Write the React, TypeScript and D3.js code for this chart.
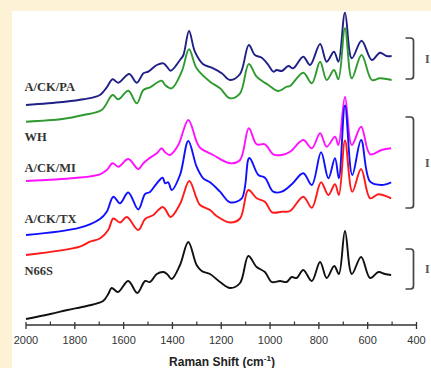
import React from "react";
import * as d3 from "d3";

// Raman shift tick values (cm-1)
const majorTicks = [2000, 1800, 1600, 1400, 1200, 1000, 800, 600, 400];
const minorTicks = [1900, 1700, 1500, 1300, 1100, 900, 700, 500];

// Series: wavenumber (cm-1) and intensity (a.u., stacked with offsets)
const wnPA = [2000,1850,1765,1697,1669,1645,1622,1577,1546,1519,1499,1464,1437,1423,1407,1369,1355,1332,1308,1274,1239,1198,1164,1123,1087,1062,1034,1007,987,973,952,925,905,864,836,795,768,738,720,693,665,625,583,550,522,502];
const intPA = [220,223,225.7,230,237.7,245.7,242.3,251,242.3,251.7,253.3,260,261.7,258.3,254.3,265,270,294,273.3,260.7,257.3,251.7,245,251,280,270,267.3,260,253.3,255,254,259,256.7,268.3,260,281,263.3,273.3,263.3,312.3,266.7,284.3,265,272.3,269,269];

const wnGreen = [2000,1850,1765,1690,1645,1622,1581,1546,1519,1492,1444,1430,1403,1362,1332,1301,1246,1205,1164,1123,1087,1055,1007,966,932,918,864,829,795,768,738,720,693,665,625,583,550,502];
const intGreen = [203.3,206,210,215,230,225.7,234.3,221.7,235,237.7,244.3,240,236.7,253.3,275.7,256.7,243.3,236.7,226.7,231.7,261,248.3,240,234,238.3,239,252.3,241.7,263.3,245,255,245.7,296.7,246.7,270,245,246.7,245];

const wnWH = [2000,1800,1697,1669,1645,1622,1581,1540,1519,1499,1464,1444,1430,1410,1376,1335,1301,1287,1233,1164,1123,1087,1055,1021,987,952,918,864,829,795,768,734,720,693,665,627,590,543,504];
const intWH = [144,147,150.7,155,161.7,158.3,166,156,161.7,166,171.7,176.7,172.7,170,180,205,183.3,177.3,170,161.7,165,196.7,180.7,180.7,170.7,170,173.3,185,176.7,191.7,178.3,188.3,180,228,180,198.3,170.7,175,176.7];

const wnMI = [2000,1779,1697,1669,1642,1615,1581,1540,1512,1492,1464,1440,1430,1417,1403,1369,1335,1301,1274,1246,1205,1164,1116,1085,1048,1021,987,952,911,864,829,791,761,734,718,693,663,627,590,543,504];
const intMI = [90,97.3,106,113.3,128.3,121.7,132.5,115.5,131,133,141.7,147.3,141.7,142.7,135,150,184,158.3,146.7,142.7,133.3,122.7,126.7,167,150,147.3,133.3,133.3,140.7,151.7,140,172.7,146.7,166.7,146.7,219.5,150,185,143.3,140,142.7];

const wnTX = [2000,1779,1738,1697,1663,1642,1615,1587,1540,1512,1478,1458,1440,1430,1407,1369,1331,1301,1287,1246,1219,1164,1123,1089,1055,1021,991,952,918,864,829,791,761,734,718,693,663,627,590,556,504];
const intTX = [70,78.3,83.3,86.5,95,106.5,102.5,108,95,106,110,115,118,116,108,121,144,126.7,120,115,109,102.5,106.5,135,126.7,123.3,112.7,113.3,114,128.3,117.3,142.7,130,140.7,130,184.5,133.3,156,126.7,130.7,126.7];

const wnN66S = [2000,1900,1830,1751,1684,1663,1649,1623,1581,1544,1512,1492,1464,1437,1422,1403,1369,1335,1301,1280,1246,1205,1164,1123,1089,1055,1021,993,959,932,911,891,864,829,795,768,737,718,693,665,627,590,556,529,504];
const intN66S = [6,11,15,19,24,31,37,33,44,32,44,43,51,53,51,46,60,83,60,54,51,43,37,42,69,58,53,43,44,43,48,47,55,44,63,47,59,51,94,51,68,47,53,51,50];

const seriesNames = ["A/CK/PA", "green", "WH", "A/CK/MI", "A/CK/TX", "N66S"];
const seriesColors = ["#1f1f86", "#2f9a2f", "#ff10ff", "#1010ff", "#ff1a1a", "#111111"];

const sampleLabels = ["A/CK/PA", "WH", "A/CK/MI", "A/CK/TX", "N66S"];
const sampleLabelIntensity = [234, 184, 153.5, 102, 50];

// brackets: [top intensity, bottom intensity]
const bracketTop = [287, 208, 76];
const bracketBottom = [246, 117, 36];
const bracketText = ["I", "I", "I"];

export default function App() {
  const W = 431, H = 368;
  const x = d3.scaleLinear().domain([2000, 400]).range([26, 416.5]);
  const y = d3.scaleLinear().domain([0, 314]).range([325, 11]);

  const all = [
    [wnPA, intPA], [wnGreen, intGreen], [wnWH, intWH],
    [wnMI, intMI], [wnTX, intTX], [wnN66S, intN66S],
  ];
  const line = d3.line<[number, number]>()
    .x(d => x(d[0])).y(d => y(d[1]))
    .curve(d3.curveCatmullRom.alpha(0.5));

  const drawOrder = [0, 1, 2, 3, 4, 5];

  return (
    <svg width={W} height={H} style={{ position: "absolute", left: 0, top: 0 }}>
      <rect x={0} y={0} width={W} height={H} fill="#fdf2d6" />
      <rect x={12} y={11} width={W - 12} height={H - 11} fill="#ffffff" />
      {drawOrder.map(i => {
        const [wn, it] = all[i];
        const pts = wn.map((w, k) => [w, it[k]] as [number, number]);
        return (
          <path key={seriesNames[i]} d={line(pts) || ""} fill="none"
            stroke={seriesColors[i]} strokeWidth={1.9} strokeLinejoin="round" />
        );
      })}
      {sampleLabels.map((s, i) => (
        <text key={s} x={24.5} y={y(sampleLabelIntensity[i])} fontFamily="'Liberation Serif', 'Times New Roman', serif"
          fontSize={12.5} fontWeight="bold" fill="#333">{s}</text>
      ))}
      {bracketTop.map((t, i) => {
        const y0 = y(t), y1 = y(bracketBottom[i]);
        const xr = 413.5, xl = 405.5, r = 3;
        const d = `M${xl},${y0} L${xr - r},${y0} Q${xr},${y0} ${xr},${y0 + r} L${xr},${y1 - r} Q${xr},${y1} ${xr - r},${y1} L${xl},${y1}`;
        return (
          <g key={i}>
            <path d={d} fill="none" stroke="#444" strokeWidth={1.7} />
            <text x={425} y={(y0 + y1) / 2 + 4} fontFamily="'Liberation Serif', serif" fontSize={12} fontWeight="bold" fill="#555">{bracketText[i]}</text>
          </g>
        );
      })}
      {/* x axis */}
      <line x1={x(2000)} x2={x(400)} y1={325} y2={325} stroke="#333" strokeWidth={1.5} />
      {majorTicks.map(t => (
        <g key={t}>
          <line x1={x(t)} x2={x(t)} y1={322} y2={329} stroke="#333" strokeWidth={1.3} />
          <text x={x(t)} y={343.5} textAnchor="middle" fontFamily="'Liberation Sans', Arial, sans-serif"
            fontSize={11} fill="#333">{t}</text>
        </g>
      ))}
      {minorTicks.map(t => (
        <line key={t} x1={x(t)} x2={x(t)} y1={321.5} y2={325} stroke="#333" strokeWidth={1.2} />
      ))}
      <text x={222} y={366} textAnchor="middle" fontFamily="'Liberation Sans', Arial, sans-serif"
        fontSize={12} fontWeight="bold" fill="#222">
        Raman Shift (cm<tspan fontSize={8} dy={-5}>-1</tspan><tspan dy={5}>)</tspan>
      </text>
    </svg>
  );
}
